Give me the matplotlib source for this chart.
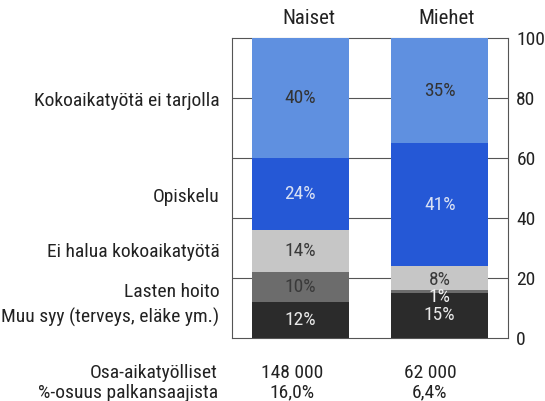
import numpy as np
import matplotlib.pyplot as plt

groups = ['Naiset', 'Miehet']
reasons = ['Muu syy (terveys, eläke ym.)', 'Lasten hoito', 'Ei halua kokoaikatyötä',
           'Opiskelu', 'Kokoaikatyötä ei tarjolla']
naiset = [12, 10, 14, 24, 40]
miehet = [15, 1, 8, 41, 35]
label_y = [7, 15.3, 28.7, 47, 79]
colors = ['#2b2b2b', '#6c6c6c', '#c6c6c6', '#2558d6', '#5f90e0']
txt_colors = ['#e8e8e8', '#3a3a3a', '#3a3a3a', '#d8e0f4', '#333333']
row_names = ['Osa-aikatyölliset', '%-osuus palkansaajista']
row_naiset = ['148 000', '16,0%']
row_miehet = ['62 000', '6,4%']

plt.rcParams['font.family'] = ['Roboto Condensed', 'Liberation Sans Narrow', 'Roboto', 'DejaVu Sans']

fig = plt.figure(figsize=(5.45, 4.01), dpi=100)
ax = fig.add_axes([232/545, 1-338/401, 276/545, 300/401])

x = np.arange(len(groups))
width = 0.695
vals = np.array([naiset, miehet])
bottom = np.zeros(2)
for i, r in enumerate(reasons):
    ax.bar(x, vals[:, i], width, bottom=bottom, color=colors[i], zorder=3)
    for j in range(2):
        v = vals[j, i]
        yc = bottom[j] + v / 2
        if j == 1 and i == 1:
            yc = 13.7
        if j == 1 and i == 2:
            yc = 19.3
        ax.text(x[j], yc, f'{v}%', ha='center', va='center', fontsize=14,
                color=txt_colors[i] if not (j == 1 and i == 1) else '#f0f0f0', zorder=4)
    bottom += vals[:, i]

ax.set_xlim(-0.49, 1.49)
ax.set_ylim(0, 100)
ax.set_yticks([0, 20, 40, 60, 80, 100])
ax.yaxis.tick_right()
ax.tick_params(axis='y', length=0, labelsize=14, pad=6, labelcolor='#222222')
ax.set_xticks([])
for y in [20, 40, 60, 80]:
    ax.axhline(y, color='#555555', lw=0.8, zorder=1)
for s in ax.spines.values():
    s.set_color('#555555')
    s.set_linewidth(0.8)

for name, yy in zip(reasons, label_y):
    ax.text(-0.58, yy, name, ha='right', va='center', fontsize=14, color='#222222',
            transform=ax.transData, clip_on=False)

for g, xx in zip(groups, [0.06, 0.05]):
    ax.text(x[groups.index(g)] + xx, 106.5, g, ha='center', va='center', fontsize=15,
            color='#222222', clip_on=False)

for k, (n, a, b) in enumerate(zip(row_names, row_naiset, row_miehet)):
    yy = -11.5 - k * 6.7
    ax.text(-0.59, yy, n, ha='right', va='center', fontsize=14, color='#222222', clip_on=False)
    ax.text(-0.06, yy, a, ha='center', va='center', fontsize=14, color='#222222', clip_on=False)
    ax.text(0.93, yy, b, ha='center', va='center', fontsize=14, color='#222222', clip_on=False)

fig.savefig('out.png', dpi=100)
